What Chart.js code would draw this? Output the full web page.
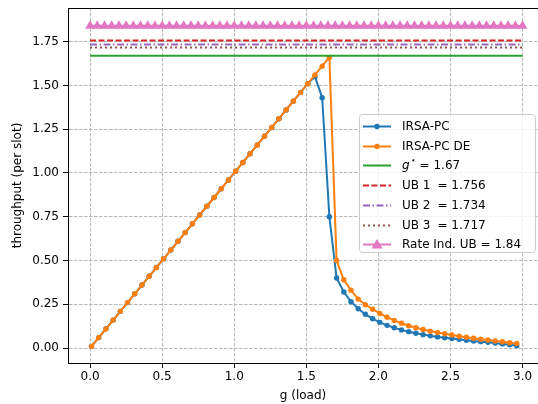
<!DOCTYPE html>
<html lang="en">
<head>
  <meta charset="UTF-8" />
  <title>IRSA-PC throughput</title>
  <script src="https://cdn.jsdelivr.net/npm/chart.js"></script>
  <style>
    html, body { margin: 0; padding: 0; background: #fff; }
    #wrap { width: 538px; height: 404px; }
  </style>
</head>
<body>
  <div id="wrap"><canvas id="thr" width="538" height="404"></canvas></div>

  <script>
    // load values of the simulated curves
    const load = [0.01, 0.06, 0.11, 0.16, 0.21, 0.26, 0.31, 0.36, 0.41, 0.46,
                  0.51, 0.56, 0.61, 0.66, 0.71, 0.76, 0.81, 0.86, 0.91, 0.96,
                  1.01, 1.06, 1.11, 1.16, 1.21, 1.26, 1.31, 1.36, 1.41, 1.46,
                  1.51, 1.56, 1.61, 1.66, 1.71, 1.76, 1.81, 1.86, 1.91, 1.96,
                  2.01, 2.06, 2.11, 2.16, 2.21, 2.26, 2.31, 2.36, 2.41, 2.46,
                  2.51, 2.56, 2.61, 2.66, 2.71, 2.76, 2.81, 2.86, 2.91, 2.96];

    const irsaPC = [0.01, 0.06, 0.11, 0.16, 0.21, 0.26, 0.31, 0.36, 0.41, 0.46,
                    0.51, 0.56, 0.61, 0.66, 0.71, 0.76, 0.81, 0.86, 0.91, 0.96,
                    1.01, 1.06, 1.11, 1.16, 1.21, 1.26, 1.31, 1.36, 1.41, 1.46,
                    1.51, 1.55, 1.43, 0.75, 0.40, 0.32, 0.265, 0.225, 0.193, 0.168,
                    0.147, 0.130, 0.116, 0.104, 0.094, 0.085, 0.077, 0.070, 0.064, 0.059,
                    0.055, 0.050, 0.045, 0.041, 0.037, 0.033, 0.029, 0.024, 0.019, 0.014];

    const irsaPCDE = [0.01, 0.06, 0.11, 0.16, 0.21, 0.26, 0.31, 0.36, 0.41, 0.46,
                      0.51, 0.56, 0.61, 0.66, 0.71, 0.76, 0.81, 0.86, 0.91, 0.96,
                      1.01, 1.06, 1.11, 1.16, 1.21, 1.26, 1.31, 1.36, 1.41, 1.46,
                      1.51, 1.56, 1.61, 1.66, 0.50, 0.39, 0.33, 0.28, 0.248, 0.222,
                      0.198, 0.176, 0.158, 0.142, 0.128, 0.116, 0.106, 0.097, 0.089, 0.082,
                      0.075, 0.068, 0.062, 0.056, 0.051, 0.046, 0.041, 0.036, 0.031, 0.027];

    // x grid of the horizontal bounds
    const boundLoad = [0.00, 0.05, 0.10, 0.15, 0.20, 0.25, 0.30, 0.35, 0.40, 0.45,
                       0.50, 0.55, 0.60, 0.65, 0.70, 0.75, 0.80, 0.85, 0.90, 0.95,
                       1.00, 1.05, 1.10, 1.15, 1.20, 1.25, 1.30, 1.35, 1.40, 1.45,
                       1.50, 1.55, 1.60, 1.65, 1.70, 1.75, 1.80, 1.85, 1.90, 1.95,
                       2.00, 2.05, 2.10, 2.15, 2.20, 2.25, 2.30, 2.35, 2.40, 2.45,
                       2.50, 2.55, 2.60, 2.65, 2.70, 2.75, 2.80, 2.85, 2.90, 2.95, 3.00];

    const gStar = 1.67;
    const ub1 = 1.756;
    const ub2 = 1.734;
    const ub3 = 1.717;
    const rateIndUB = 1.84;

    const xTicks = [0.0, 0.5, 1.0, 1.5, 2.0, 2.5, 3.0];
    const yTicks = [0.00, 0.25, 0.50, 0.75, 1.00, 1.25, 1.50, 1.75];

    const FONT = 'DejaVu Sans';
    const pts = (xs, ys) => xs.map((x, i) => ({ x: x, y: ys[i] }));
    const flat = (xs, v) => xs.map(x => ({ x: x, y: v }));

    const series = [
      { label: 'IRSA-PC', data: pts(load, irsaPC), borderColor: '#1f77b4', backgroundColor: '#1f77b4',
        borderWidth: 2, pointRadius: 2.7, pointStyle: 'circle' },
      { label: 'IRSA-PC DE', data: pts(load, irsaPCDE), borderColor: '#ff7f0e', backgroundColor: '#ff7f0e',
        borderWidth: 2, pointRadius: 2.7, pointStyle: 'circle' },
      { label: 'g* = 1.67', data: flat([0, 3], gStar), borderColor: '#2ca02c', borderWidth: 2, pointRadius: 0 },
      { label: 'UB 1 = 1.756', data: flat([0, 3], ub1), borderColor: '#d62728', borderWidth: 2,
        borderDash: [6, 2.5], pointRadius: 0 },
      { label: 'UB 2 = 1.734', data: flat([0, 3], ub2), borderColor: '#9467bd', borderWidth: 2,
        borderDash: [7, 2.5, 1.5, 2.5], pointRadius: 0 },
      { label: 'UB 3 = 1.717', data: flat([0, 3], ub3), borderColor: '#8c564b', borderWidth: 2,
        borderDash: [2, 3], pointRadius: 0 },
      { label: 'Rate Ind. UB = 1.84', data: flat(boundLoad, rateIndUB), borderColor: '#e377c2',
        backgroundColor: '#e377c2', borderWidth: 2, pointRadius: 5.6, pointStyle: 'triangle' }
    ];
    series.forEach((s, i) => {
      s.order = series.length - i;
      s.pointBorderWidth = 0;
      s.tension = 0;
      s.fill = false;
    });

    // top spine (matplotlib frame)
    const frame = {
      id: 'frame',
      afterDraw(chart) {
        const { ctx, chartArea } = chart;
        ctx.save();
        ctx.strokeStyle = '#000';
        ctx.lineWidth = 1;
        ctx.beginPath();
        ctx.moveTo(chartArea.left, Math.round(chartArea.top) + 0.5);
        ctx.lineTo(chartArea.right, Math.round(chartArea.top) + 0.5);
        ctx.stroke();
        ctx.restore();
      }
    };

    // legend box like the matplotlib one
    const boxLegend = {
      id: 'boxLegend',
      afterDraw(chart) {
        const ctx = chart.ctx;
        const x0 = 359, y0 = 114, w = 176, h = 138;
        const rowY = 126, rowH = 19.7;
        ctx.save();
        ctx.fillStyle = 'rgba(255,255,255,0.8)';
        ctx.strokeStyle = '#cccccc';
        ctx.lineWidth = 1;
        ctx.beginPath();
        ctx.roundRect(x0 + 0.5, y0 + 0.5, w, h, 3);
        ctx.fill();
        ctx.stroke();

        series.forEach((s, i) => {
          const y = Math.round(rowY + i * rowH) + 0.5;
          ctx.strokeStyle = s.borderColor;
          ctx.lineWidth = s.borderWidth;
          ctx.setLineDash(s.borderDash || []);
          ctx.beginPath();
          ctx.moveTo(363, y);
          ctx.lineTo(391, y);
          ctx.stroke();
          ctx.setLineDash([]);
          if (s.pointRadius > 0) {
            ctx.fillStyle = s.backgroundColor;
            if (s.pointStyle === 'triangle') {
              ctx.beginPath();
              ctx.moveTo(377, y - 5.5);
              ctx.lineTo(382.5, y + 4);
              ctx.lineTo(371.5, y + 4);
              ctx.closePath();
              ctx.fill();
            } else {
              ctx.beginPath();
              ctx.arc(377, y, 2.7, 0, Math.PI * 2);
              ctx.fill();
            }
          }
          ctx.fillStyle = '#000';
          ctx.textBaseline = 'middle';
          ctx.textAlign = 'left';
          if (i === 2) {
            ctx.font = 'italic 12px "' + FONT + '"';
            ctx.fillText('g', 402, y);
            const gw = ctx.measureText('g').width;
            ctx.font = '9px "' + FONT + '"';
            ctx.fillText('\u22c6', 402 + gw + 1, y - 5);
            ctx.font = '12px "' + FONT + '"';
            ctx.fillText('= 1.67', 402 + gw + 10, y);
          } else if (i >= 3 && i <= 5) {
            const parts = s.label.split(' = ');
            ctx.font = '12px "' + FONT + '"';
            ctx.fillText(parts[0], 402, y);
            const pw = ctx.measureText(parts[0]).width;
            ctx.fillText('= ' + parts[1], 402 + pw + 7, y);
          } else {
            ctx.font = '12px "' + FONT + '"';
            ctx.fillText(s.label, 402, y);
          }
        });
        ctx.restore();
      }
    };

    const tickFont = { family: FONT, size: 12 };
    const gridOpts = { color: '#b0b0b0', lineWidth: 0.9, tickLength: 5,
                       tickColor: '#000', tickWidth: 1, tickBorderDash: [] };
    const borderOpts = { display: true, color: '#000', width: 1, dash: [3.5, 1.5] };

    new Chart(document.getElementById('thr'), {
      type: 'line',
      data: { datasets: series },
      options: {
        responsive: false,
        animation: false,
        layout: { autoPadding: false, padding: { top: 8, right: 0, left: 0, bottom: 0 } },
        plugins: { legend: { display: false }, tooltip: { enabled: false } },
        scales: {
          x: {
            type: 'linear',
            min: -0.153,
            max: 3.107,
            afterBuildTicks: axis => { axis.ticks = xTicks.map(v => ({ value: v })); },
            afterFit: axis => { axis.height = 41; axis.paddingLeft = 0; axis.paddingRight = 0; },
            ticks: { font: tickFont, color: '#000', padding: 2, maxRotation: 0,
                     callback: v => v.toFixed(1) },
            grid: gridOpts,
            border: borderOpts,
            title: { display: true, text: 'g (load)', color: '#000', font: { family: FONT, size: 12 },
                     padding: { top: 0, bottom: 1 } }
          },
          y: {
            type: 'linear',
            min: -0.085,
            max: 1.942,
            afterBuildTicks: axis => { axis.ticks = yTicks.map(v => ({ value: v })); },
            afterFit: axis => { axis.width = 68; axis.paddingTop = 0; axis.paddingBottom = 0; },
            ticks: { font: tickFont, color: '#000', padding: 4,
                     callback: v => v.toFixed(2) },
            grid: gridOpts,
            border: borderOpts,
            title: { display: true, text: 'throughput (per slot)', color: '#000',
                     font: { family: FONT, size: 12 }, padding: { top: 11, bottom: 0 } }
          }
        }
      },
      plugins: [frame, boxLegend]
    });
  </script>
</body>
</html>
